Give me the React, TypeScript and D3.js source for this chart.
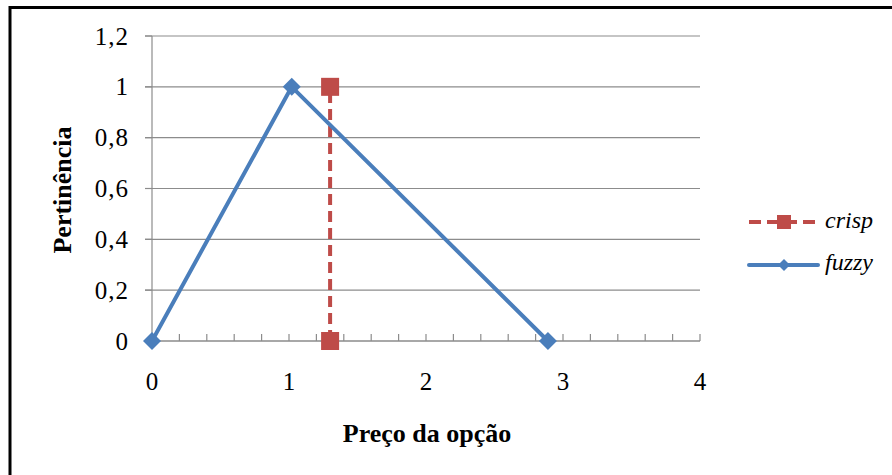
import React from "react";
import * as d3 from "d3";

const fuzzyX = [0, 1.02, 2.89];
const fuzzyY = [0, 1, 0];
const crispX = [1.3, 1.3];
const crispY = [0, 1];
const yTicks = [0, 0.2, 0.4, 0.6, 0.8, 1, 1.2];
const xTicks = [0, 1, 2, 3, 4];
const xMinor = d3.range(0, 4.0001, 0.2);

const W = 892, H = 475;
const FONT = "'Liberation Serif', 'Times New Roman', serif";
const BLUE = "#4a7ebb";
const RED = "#be4b48";

export default function App() {
  const x = d3.scaleLinear().domain([0, 4]).range([152, 700]);
  const y = d3.scaleLinear().domain([0, 1.2]).range([341, 36]);
  const line = d3.line<[number, number]>().x(d => x(d[0])).y(d => y(d[1]));
  const fuzzy: [number, number][] = fuzzyX.map((v, i) => [v, fuzzyY[i]]);
  const crisp: [number, number][] = crispX.map((v, i) => [v, crispY[i]]);
  const diamond = (cx: number, cy: number, r: number) =>
    `M${cx},${cy - r}L${cx + r},${cy}L${cx},${cy + r}L${cx - r},${cy}Z`;
  const fmt = (v: number) => String(Math.round(v * 10) / 10).replace(".", ",");

  return (
    <svg width={W} height={H} style={{ position: "absolute", left: 0, top: 0, background: "#fff" }}>
      <rect x={0} y={0} width={W} height={H} fill="#fff" />
      <rect x={10} y={7.5} width={W + 20} height={H + 20} fill="none" stroke="#000" strokeWidth={3} />
      {/* gridlines */}
      {yTicks.map(t => (
        <line key={"g" + t} x1={t === 0 ? 152 : 145} x2={700} y1={y(t)} y2={y(t)} stroke="#8c8c8c" strokeWidth={1.2} />
      ))}
      {yTicks.map(t => (
        <line key={"yt" + t} x1={145} x2={152} y1={y(t)} y2={y(t)} stroke="#8c8c8c" strokeWidth={1.2} />
      ))}
      <line x1={152} x2={152} y1={y(1.2)} y2={y(0)} stroke="#8c8c8c" strokeWidth={1.2} />
      <line x1={152} x2={700} y1={y(0)} y2={y(0)} stroke="#8c8c8c" strokeWidth={1.2} />
      {xMinor.map((t, i) => (
        <line key={"xm" + i} x1={x(t)} x2={x(t)} y1={y(0)} y2={y(0) - 7} stroke="#8c8c8c" strokeWidth={1.2} />
      ))}
      {/* y tick labels */}
      {yTicks.map(t => (
        <text key={"yl" + t} x={129} y={y(t)} dy="0.34em" textAnchor="end" fontFamily={FONT} fontSize={25} letterSpacing={1} fill="#000">
          {fmt(t)}
        </text>
      ))}
      {xTicks.map(t => (
        <text key={"xl" + t} x={x(t)} y={390} textAnchor="middle" fontFamily={FONT} fontSize={25} fill="#000">
          {fmt(t)}
        </text>
      ))}
      {/* axis titles */}
      <text transform="translate(71,190) rotate(-90)" textAnchor="middle" fontFamily={FONT} fontSize={26} fontWeight="bold" fill="#000">
        Pertinência
      </text>
      <text x={427} y={442} textAnchor="middle" fontFamily={FONT} fontSize={26} fontWeight="bold" fill="#000">
        Preço da opção
      </text>
      {/* crisp series */}
      <path d={line(crisp) || ""} fill="none" stroke={RED} strokeWidth={4} strokeDasharray="11,6" />
      {crisp.map((d, i) => (
        <rect key={"c" + i} x={x(d[0]) - 9} y={y(d[1]) - 9} width={18} height={18} fill={RED} />
      ))}
      {/* fuzzy series */}
      <path d={line(fuzzy) || ""} fill="none" stroke={BLUE} strokeWidth={4} strokeLinejoin="round" />
      {fuzzy.map((d, i) => (
        <path key={"f" + i} d={diamond(x(d[0]), y(d[1]), 9)} fill={BLUE} />
      ))}
      {/* legend */}
      <line x1={749} x2={818} y1={222} y2={222} stroke={RED} strokeWidth={4} strokeDasharray="12,6" />
      <rect x={777} y={215} width={14} height={14} fill={RED} />
      <text x={825} y={228} fontFamily={FONT} fontSize={24} fontStyle="italic" fill="#000">crisp</text>
      <line x1={749} x2={818} y1={265} y2={265} stroke={BLUE} strokeWidth={4} strokeLinecap="round" />
      <path d={diamond(784, 265, 6)} fill={BLUE} />
      <text x={825} y={270} fontFamily={FONT} fontSize={24} fontStyle="italic" fill="#000">fuzzy</text>
    </svg>
  );
}
